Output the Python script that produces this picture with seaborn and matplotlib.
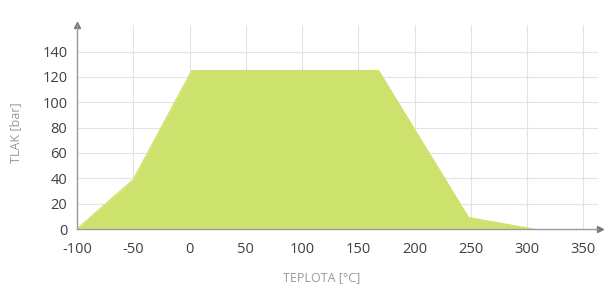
import matplotlib
matplotlib.use("Agg")
import matplotlib.pyplot as plt
import seaborn as sns
import pandas as pd

# data
teplota = [-100, -50, 2, 168, 248, 305]
tlak = [0, 39, 125, 125, 9, 0]
x_ticks = [-100, -50, 0, 50, 100, 150, 200, 250, 300, 350]
y_ticks = [0, 20, 40, 60, 80, 100, 120, 140]

df = pd.DataFrame({"TEPLOTA": teplota, "TLAK": tlak})

sns.set_style("white")
plt.rcParams["font.family"] = ["Open Sans", "DejaVu Sans"]

fill_color = "#cde26c"
grid_color = "#e3e3e3"
axis_color = "#9a9a9a"

fig = plt.figure(figsize=(6.07, 2.87), dpi=100)
ax = fig.add_axes([0.127, 0.202, 0.858, 0.711])

ax.fill_between(df["TEPLOTA"], df["TLAK"], 0, color=fill_color, linewidth=0, zorder=2)
sns.lineplot(data=df, x="TEPLOTA", y="TLAK", color=fill_color, linewidth=1, ax=ax, zorder=3)

ax.set_xlim(-100, 363)
ax.set_ylim(0, 161)
ax.set_xticks(x_ticks)
ax.set_yticks(y_ticks)
ax.set_xticklabels([str(v) for v in x_ticks])
ax.tick_params(axis="both", length=0, labelsize=10.5, labelcolor="#404040")
ax.tick_params(axis="x", pad=9)
ax.tick_params(axis="y", pad=7)

for v in x_ticks[1:]:
    ax.axvline(v, color=grid_color, linewidth=0.8, zorder=1)
for v in y_ticks[1:]:
    ax.axhline(v, color=grid_color, linewidth=0.8, zorder=1)

for s in ["top", "right"]:
    ax.spines[s].set_visible(False)
for s in ["left", "bottom"]:
    ax.spines[s].set_color(axis_color)
    ax.spines[s].set_linewidth(1)
    ax.spines[s].set_zorder(4)

# arrow heads on the axes
ax.plot(0, 1, marker="^", color="#7a7a7a", markersize=5, transform=ax.transAxes, clip_on=False)
ax.plot(1.005, 0, marker=">", color="#7a7a7a", markersize=5, transform=ax.transAxes, clip_on=False)

ax.set_xlabel("TEPLOTA [°C]", color="#9a9a9a", fontsize=9)
ax.set_ylabel("TLAK [bar]", color="#9a9a9a", fontsize=9)
ax.xaxis.set_label_coords(0.47, -0.205)
ax.yaxis.set_label_coords(-0.105, 0.47)

fig.savefig("out.png", dpi=100)
